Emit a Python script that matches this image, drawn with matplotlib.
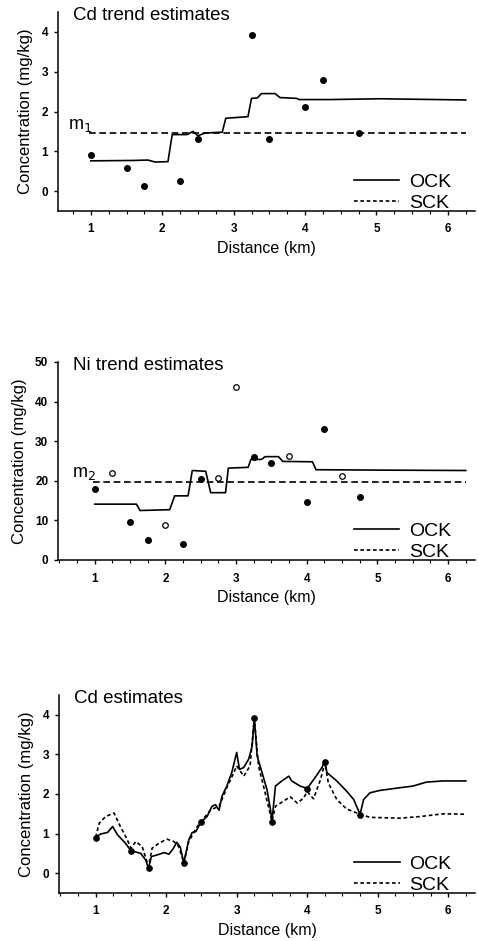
import matplotlib
matplotlib.use("Agg")
import matplotlib.pyplot as plt
from matplotlib.lines import Line2D
from matplotlib.ticker import MultipleLocator

plt.rcParams['font.family'] = ['Liberation Sans', 'DejaVu Sans']

# ---------------- data ----------------
cd_x = [1.0, 1.5, 1.75, 2.25, 2.5, 3.25, 3.5, 4.0, 4.25, 4.75]
cd_y = [0.9, 0.57, 0.12, 0.26, 1.3, 3.92, 1.3, 2.12, 2.8, 1.47]

cd_trend_x = [1.0, 1.6, 1.8, 1.9, 2.08, 2.12, 2.14, 2.35, 2.43, 2.5, 2.6, 2.84, 2.89,
              3.2, 3.25, 3.33, 3.39, 3.58, 3.65, 3.88, 3.92, 4.35, 5.05, 6.25]
cd_trend_y = [0.76, 0.77, 0.78, 0.73, 0.74, 1.2, 1.42, 1.42, 1.5, 1.39, 1.46, 1.48, 1.83,
              1.87, 2.33, 2.34, 2.45, 2.45, 2.35, 2.33, 2.3, 2.3, 2.32, 2.29]
m1 = 1.47
trend_span = [0.97, 6.25]

ni_fill_x = [1.0, 1.5, 1.75, 2.25, 2.5, 3.25, 3.5, 4.0, 4.25, 4.75]
ni_fill_y = [17.9, 9.6, 5.1, 4.0, 20.4, 26.1, 24.5, 14.6, 33.0, 15.8]
ni_open_x = [1.25, 2.0, 2.75, 3.0, 3.75, 4.5]
ni_open_y = [22.0, 8.9, 20.7, 43.7, 26.2, 21.2]

ni_trend_x = [1.0, 1.59, 1.64, 2.06, 2.13, 2.32, 2.38, 2.57, 2.64, 2.85, 2.89, 3.17,
              3.21, 3.36, 3.41, 3.6, 3.66, 4.08, 4.13, 5.0, 6.25]
ni_trend_y = [14.1, 14.1, 12.5, 12.7, 16.2, 16.2, 22.6, 22.4, 17.0, 17.0, 23.2, 23.4,
              25.4, 25.4, 26.1, 26.1, 24.9, 24.8, 22.8, 22.7, 22.6]
m2 = 19.6

ock_x = [1.0, 1.07, 1.17, 1.24, 1.31, 1.42, 1.5, 1.64, 1.71, 1.75, 1.79, 1.87, 1.97,
         2.04, 2.1, 2.15, 2.2, 2.25, 2.32, 2.37, 2.42, 2.5, 2.58, 2.65, 2.7, 2.75, 2.79,
         2.86, 2.93, 3.0, 3.04, 3.1, 3.17, 3.22, 3.25, 3.29, 3.36, 3.43, 3.48, 3.5, 3.55,
         3.64, 3.74, 3.78, 3.9, 4.0, 4.11, 4.21, 4.25, 4.28, 4.42, 4.56, 4.66, 4.71,
         4.75, 4.8, 4.89, 5.03, 5.32, 5.5, 5.69, 5.93, 6.25]
ock_y = [0.91, 0.99, 1.03, 1.18, 0.97, 0.76, 0.57, 0.5, 0.33, 0.12, 0.42, 0.46, 0.52,
         0.48, 0.62, 0.78, 0.66, 0.26, 0.84, 1.03, 1.05, 1.31, 1.43, 1.69, 1.73, 1.59, 1.94,
         2.2, 2.54, 3.05, 2.62, 2.67, 2.88, 3.22, 3.94, 2.96, 2.54, 2.11, 1.6, 1.31, 2.2,
         2.33, 2.45, 2.33, 2.2, 2.14, 2.41, 2.67, 2.83, 2.54, 2.33, 2.07, 1.86, 1.65,
         1.49, 1.86, 2.03, 2.09, 2.16, 2.2, 2.3, 2.33, 2.33]

sck_x = [1.0, 1.05, 1.14, 1.26, 1.35, 1.45, 1.5, 1.57, 1.66, 1.75, 1.8, 1.9, 2.01,
         2.11, 2.18, 2.25, 2.32, 2.44, 2.5, 2.63, 2.75, 2.86, 2.96, 3.0, 3.1, 3.19, 3.25,
         3.31, 3.38, 3.45, 3.5, 3.55, 3.62, 3.76, 3.86, 3.95, 4.0, 4.09, 4.19, 4.25, 4.3,
         4.42, 4.56, 4.75, 4.89, 5.32, 5.6, 5.93, 6.25]
sck_y = [0.91, 1.26, 1.43, 1.52, 1.18, 0.84, 0.63, 0.8, 0.67, 0.16, 0.63, 0.76, 0.86,
         0.8, 0.67, 0.26, 0.8, 1.18, 1.31, 1.6, 1.69, 2.16, 2.54, 2.71, 2.45, 2.71, 3.9,
         2.71, 2.2, 1.69, 1.31, 1.69, 1.77, 1.93, 1.77, 1.9, 2.06, 1.88, 2.37, 2.79, 2.28,
         1.86, 1.62, 1.49, 1.41, 1.39, 1.43, 1.5, 1.49]

titles = ["Cd trend estimates", "Ni trend estimates", "Cd estimates"]
ylabel = "Concentration (mg/kg)"
xlabel = "Distance (km)"
legend_labels = ["OCK", "SCK"]

# ---------------- figure ----------------
W, H = 478, 941
fig = plt.figure(figsize=(W / 100, H / 100), dpi=100)


def make_ax(left, right, top, bottom):
    return fig.add_axes([left / W, 1 - bottom / H, (right - left) / W, (bottom - top) / H])


ax1 = make_ax(58, 475, 12, 211)
ax2 = make_ax(58, 475, 362, 560)
ax3 = make_ax(59, 475, 695, 893)

LW = 1.2


def style(ax, ylim, yticks, title, xlim):
    ax.set_xlim(*xlim)
    ax.set_ylim(*ylim)
    for s in ('top', 'right'):
        ax.spines[s].set_visible(False)
    for s in ('left', 'bottom'):
        ax.spines[s].set_linewidth(1.1)
    ax.set_xticks([1, 2, 3, 4, 5, 6])
    ax.xaxis.set_minor_locator(MultipleLocator(0.25))
    ax.set_yticks(yticks)
    ax.tick_params(axis='both', which='major', direction='out', length=3, width=1, pad=4)
    ax.tick_params(axis='x', which='major', pad=6)
    ax.tick_params(axis='x', which='minor', direction='out', length=2, width=0.8)
    for lab in ax.get_xticklabels() + ax.get_yticklabels():
        lab.set_fontsize(8.5)
        lab.set_fontweight('bold')
    ax.set_ylabel(ylabel, fontsize=12, labelpad=6)
    ax.set_xlabel(xlabel, fontsize=11.5, labelpad=4)
    ax.text(0.035, 0.98, title, transform=ax.transAxes, fontsize=13.5,
            ha='left', va='center')
    handles = [Line2D([], [], color='black', lw=LW, linestyle='-'),
               Line2D([], [], color='black', lw=LW, linestyle=(0, (2.2, 1.6)))]
    ax.legend(handles, legend_labels, loc='lower left', bbox_to_anchor=(0.69, -0.045),
              frameon=False, fontsize=14, handlelength=2.35, handletextpad=0.5,
              labelspacing=0.2, borderaxespad=0)


# Panel 1
ax1.plot(cd_trend_x, cd_trend_y, color='black', lw=LW)
ax1.plot(trend_span, [m1, m1], color='black', lw=LW, linestyle=(0, (4, 2.2)))
ax1.plot(cd_x, cd_y, 'o', color='black', ms=4)
ax1.text(0.68, 1.57, "m$_1$", fontsize=13, ha='left', va='baseline')
style(ax1, (-0.5, 4.5), [0, 1, 2, 3, 4], titles[0], (0.54, 6.38))

# Panel 2
ax2.plot(ni_trend_x, ni_trend_y, color='black', lw=LW)
ax2.plot(trend_span, [m2, m2], color='black', lw=LW, linestyle=(0, (4, 2.2)))
ax2.plot(ni_fill_x, ni_fill_y, 'o', color='black', ms=4)
ax2.plot(ni_open_x, ni_open_y, 'o', mfc='white', mec='black', mew=0.9, ms=4)
ax2.text(0.68, 21.0, "m$_2$", fontsize=13, ha='left', va='baseline')
style(ax2, (0, 50), [0, 10, 20, 30, 40, 50], titles[1], (0.48, 6.38))

# Panel 3
ax3.plot(sck_x, sck_y, color='black', lw=LW, linestyle=(0, (2.2, 1.6)))
ax3.plot(ock_x, ock_y, color='black', lw=LW)
ax3.plot(cd_x, cd_y, 'o', color='black', ms=3.8)
style(ax3, (-0.5, 4.5), [0, 1, 2, 3, 4], titles[2], (0.48, 6.38))

fig.savefig("out.png", dpi=100)
